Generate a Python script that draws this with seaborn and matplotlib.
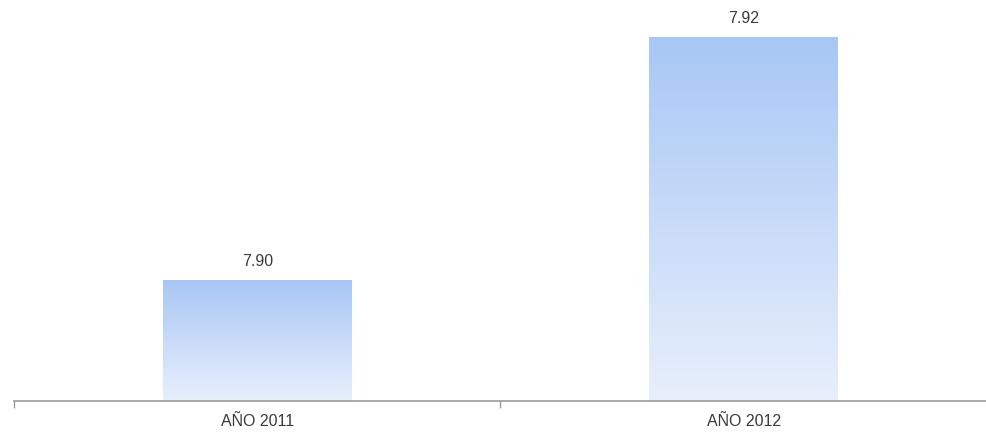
import matplotlib
matplotlib.use("Agg")
import matplotlib.pyplot as plt
import seaborn as sns
import numpy as np
import pandas as pd
from matplotlib.colors import LinearSegmentedColormap

categories = ["AÑO 2011", "AÑO 2012"]
values = [7.90, 7.92]
value_labels = ["7.90", "7.92"]

sns.set_style("white")
plt.rcParams['font.family'] = ['Liberation Sans', 'DejaVu Sans']

fig = plt.figure(figsize=(9.87, 4.39), dpi=100)
ax = fig.add_axes([14/987, 37/439, 973/987, 402/439])

df = pd.DataFrame({"cat": categories, "val": values})
sns.barplot(data=df, x="cat", y="val", ax=ax, width=0.388, color="#aac9f6",
            edgecolor="none", linewidth=0)

ax.set_xlim(-0.5, 1.5)
ax.set_ylim(7.89, 7.9231)

cmap = LinearSegmentedColormap.from_list("g", ["#e8effc", "#a8c7f5"])
grad = np.linspace(0, 1, 256).reshape(-1, 1)
for p in list(ax.patches):
    x0, w = p.get_x(), p.get_width()
    y0, h = p.get_y(), p.get_height()
    im = ax.imshow(grad, cmap=cmap, origin="lower", aspect="auto",
                   extent=[x0, x0 + w, ax.get_ylim()[0], y0 + h], zorder=p.get_zorder() + 0.1)
    im.set_clip_path(p)

for p, lab in zip(ax.patches, value_labels):
    ax.annotate(lab, (p.get_x() + p.get_width() / 2, p.get_y() + p.get_height()),
                xytext=(0, 14), textcoords="offset points", ha="center", va="center",
                fontsize=11.5, color="#3a3a3a")

ax.set_ylim(7.89, 7.9231)
ax.set_xlim(-0.5, 1.5)
for s in ["top", "right", "left"]:
    ax.spines[s].set_visible(False)
ax.spines["bottom"].set_color("#9a9a9a")
ax.spines["bottom"].set_linewidth(1.2)
ax.set_yticks([])
ax.set_xlabel("")
ax.set_ylabel("")
ax.set_xticks([0, 1])
ax.set_xticklabels(categories, fontsize=11.5, color="#3a3a3a")
ax.tick_params(axis="x", which="major", length=0, pad=9)
ax.set_xticks([-0.5, 0.5], minor=True)
ax.tick_params(axis="x", which="minor", length=5, color="#9a9a9a", width=1, direction="out", bottom=True)

fig.savefig("out.png", dpi=100)
